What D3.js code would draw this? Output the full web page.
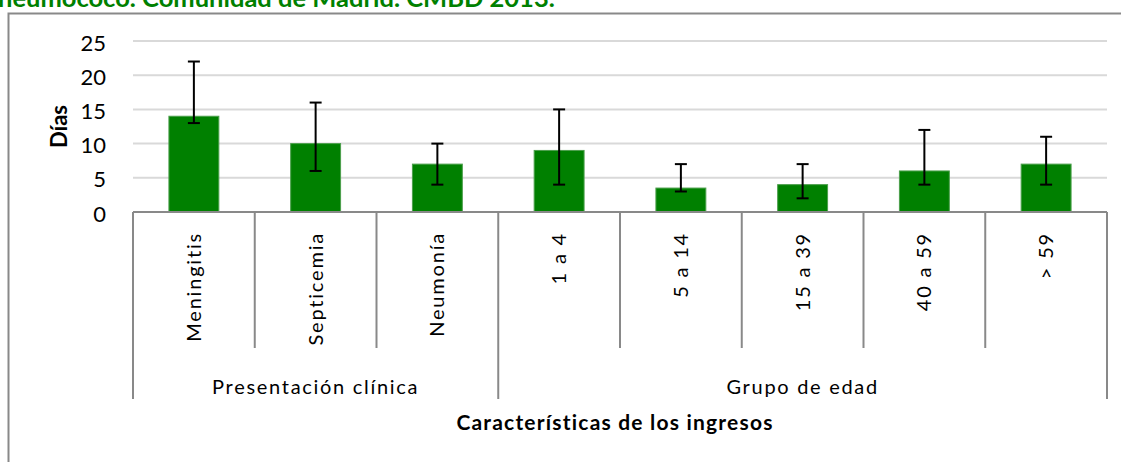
<!DOCTYPE html>
<html>
<head>
<meta charset="utf-8"/>
<script src="https://cdn.jsdelivr.net/npm/d3@7"></script>
<style>
body { margin: 0; background: #fff; }
svg { display: block; font-family: Lato, "Open Sans", sans-serif; }
.grid line { stroke: #d9d9d9; stroke-width: 2; }
.divider { stroke: #898989; stroke-width: 2; }
.tick-label { font-size: 22px; fill: #000; }
.cat-label { font-size: 20px; letter-spacing: 1.8px; fill: #000; }
.group-label { font-size: 20px; letter-spacing: 1.7px; fill: #000; }
.axis-title { font-size: 21px; font-weight: bold; letter-spacing: 1.2px; fill: #000; }
</style>
</head>
<body>
<svg id="chart" width="1121" height="462"></svg>
<script>
// datos
var categories = ["Meningitis", "Septicemia", "Neumonía", "1 a 4", "5 a 14", "15 a 39", "40 a 59", "> 59"];
var groups = ["Presentación clínica", "Grupo de edad"];
var categoryGroup = [0, 0, 0, 1, 1, 1, 1, 1];
var dias = [14, 10, 7, 9, 3.5, 4, 6, 7];
var errLow = [13, 6, 4, 4, 3, 2, 4, 4];
var errHigh = [22, 16, 10, 15, 7, 7, 12, 11];
var yTicks = [0, 5, 10, 15, 20, 25];

var svg = d3.select("#chart");

var plotLeft = 133, plotRight = 1107, plotTop = 41, plotBase = 212;

var x = d3.scaleBand()
    .domain(categories)
    .range([plotLeft, plotRight])
    .paddingInner(0.59)
    .paddingOuter(0.295);

var y = d3.scaleLinear()
    .domain([0, 25])
    .range([plotBase, plotTop]);

var step = x.step();
function bandLeft(c) { return x(c) - x.paddingInner() * step / 2; }

// titulo cortado arriba
svg.append("text")
    .attr("x", -2)
    .attr("y", 7)
    .attr("fill", "#008000")
    .attr("font-weight", "bold")
    .attr("font-size", 25.5)
    .text("neumococo. Comunidad de Madrid. CMBD 2013.");

// marco del grafico
svg.append("path")
    .attr("d", "M8.5,462 V13.5 H1121")
    .attr("fill", "none")
    .attr("stroke", "#898989")
    .attr("stroke-width", 2);

// lineas de cuadricula
svg.append("g")
    .attr("class", "grid")
    .selectAll("line")
    .data(yTicks.filter(function(d) { return d > 0; }))
    .enter().append("line")
    .attr("x1", plotLeft).attr("x2", plotRight)
    .attr("y1", function(d) { return y(d); })
    .attr("y2", function(d) { return y(d); });

svg.append("g")
    .selectAll("text")
    .data(yTicks)
    .enter().append("text")
    .attr("class", "tick-label")
    .attr("text-anchor", "end")
    .attr("x", 106)
    .attr("y", function(d) { return y(d) + 9.6; })
    .text(function(d) { return d; });

// barras
svg.append("g")
    .selectAll("rect")
    .data(categories)
    .enter().append("rect")
    .attr("x", function(d) { return x(d); })
    .attr("width", x.bandwidth())
    .attr("y", function(d, i) { return y(dias[i]); })
    .attr("height", function(d, i) { return plotBase - y(dias[i]); })
    .attr("fill", "#008000")
    .attr("stroke", "#4c9f4c")
    .attr("stroke-width", 1);

// barras de error
var err = svg.append("g")
    .attr("stroke", "#000")
    .attr("stroke-width", 2)
    .selectAll("g")
    .data(categories)
    .enter().append("g");

err.append("line")
    .attr("x1", function(d) { return x(d) + x.bandwidth() / 2; })
    .attr("x2", function(d) { return x(d) + x.bandwidth() / 2; })
    .attr("y1", function(d, i) { return y(errLow[i]); })
    .attr("y2", function(d, i) { return y(errHigh[i]); });

[errLow, errHigh].forEach(function(arr) {
  err.append("line")
      .attr("x1", function(d) { return x(d) + x.bandwidth() / 2 - 6; })
      .attr("x2", function(d) { return x(d) + x.bandwidth() / 2 + 6; })
      .attr("y1", function(d, i) { return y(arr[i]); })
      .attr("y2", function(d, i) { return y(arr[i]); });
});

// eje x
svg.append("line")
    .attr("class", "divider")
    .attr("x1", plotLeft).attr("x2", plotRight)
    .attr("y1", plotBase).attr("y2", plotBase);

var edges = categories.map(bandLeft).concat([plotRight]);
svg.append("g")
    .selectAll("line")
    .data(edges)
    .enter().append("line")
    .attr("class", "divider")
    .attr("x1", function(d) { return d; })
    .attr("x2", function(d) { return d; })
    .attr("y1", plotBase)
    .attr("y2", function(d, i) {
      var isGroupEdge = i === 0 || i === edges.length - 1 ||
        categoryGroup[i] !== categoryGroup[i - 1];
      return isGroupEdge ? 399 : 348;
    });

svg.append("g")
    .selectAll("text")
    .data(categories)
    .enter().append("text")
    .attr("class", "cat-label")
    .attr("text-anchor", "end")
    .attr("transform", function(d) {
      return "translate(" + (x(d) + x.bandwidth() / 2 + 7) + ",232) rotate(-90)";
    })
    .text(function(d) { return d; });

svg.append("g")
    .selectAll("text")
    .data(groups)
    .enter().append("text")
    .attr("class", "group-label")
    .attr("text-anchor", "middle")
    .attr("x", function(g, gi) {
      var cats = categories.filter(function(c, i) { return categoryGroup[i] === gi; });
      var x0 = bandLeft(cats[0]);
      var x1 = bandLeft(cats[cats.length - 1]) + step;
      return (x0 + x1) / 2;
    })
    .attr("y", 394)
    .text(function(d) { return d; });

// titulos de ejes
svg.append("text")
    .attr("class", "axis-title")
    .attr("text-anchor", "middle")
    .attr("x", (plotLeft + plotRight) / 2 - 5)
    .attr("y", 430)
    .text("Características de los ingresos");

svg.append("text")
    .attr("class", "axis-title")
    .attr("text-anchor", "middle")
    .attr("transform", "translate(67," + (plotTop + plotBase) / 2 + ") rotate(-90)")
    .style("font-size", "22px")
    .style("letter-spacing", "0px")
    .text("Días");
</script>
</body>
</html>
